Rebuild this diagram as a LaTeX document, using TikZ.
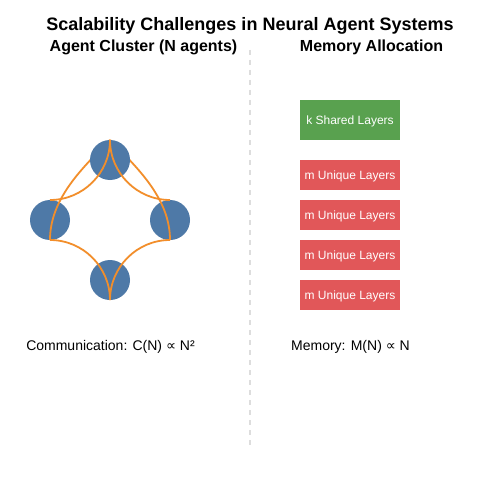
\documentclass[tikz,border=0pt]{standalone}
\usepackage{fontspec}
\setmainfont{Liberation Sans}
\newfontfamily\symfont{DejaVu Sans}
\definecolor{agentblue}{HTML}{4E79A7}
\definecolor{linkorange}{HTML}{F28E2B}
\definecolor{sharedgreen}{HTML}{59A14F}
\definecolor{uniquered}{HTML}{E15759}
\definecolor{divgray}{HTML}{DDDDDD}
\pgfdeclarelayer{back}
\pgfdeclarelayer{mid}
\pgfsetlayers{back,mid,main}
\begin{document}
\begin{tikzpicture}[x=1pt,y=-1pt,
  agent/.style={circle,fill=agentblue,draw=none,minimum size=40pt,inner sep=0pt,outer sep=0pt},
  link/.style={draw=linkorange,line width=1.8pt},
  layerbox/.style={rectangle,minimum width=100pt,inner sep=0pt,outer sep=0pt,text=white,text height=8.6pt,text depth=0pt,font=\fontsize{12}{14}\selectfont},
  titletext/.style={anchor=base,inner sep=0pt,font=\bfseries\fontsize{18}{21}\selectfont},
  headtext/.style={anchor=base,inner sep=0pt,font=\bfseries\fontsize{16}{19}\selectfont},
  labeltext/.style={anchor=base,inner sep=0pt,font=\fontsize{14}{17}\selectfont},
  divider/.style={draw=divgray,line width=1.5pt,dash pattern=on 5pt off 5pt}]
\begin{pgfonlayer}{back}
\fill[white] (0,0) rectangle (500,500);
\end{pgfonlayer}
\useasboundingbox (0,0) rectangle (500,500);

\node[titletext] (title) at (250,31) {Scalability Challenges in Neural Agent Systems};
\node[headtext] (headL) at (143.5,52) {Agent Cluster (N agents)};
\node[headtext] (headR) at (371.5,52) {Memory Allocation};

\coordinate (divtop) at (250,50);
\coordinate (divbot) at (250,445);
\draw[divider] (divtop) -- (divbot);

\begin{pgfonlayer}{back}
\node[agent] (L) at (50,220) {};
\node[agent] (R) at (170,220) {};
\node[agent] (B) at (110,280) {};
\end{pgfonlayer}
\node[agent] (T) at (110,160) {};

\begin{pgfonlayer}{mid}
\draw[link] (T.north) .. controls +(-30,30) and +(0,-40) .. (L.south);
\draw[link] (T.north) .. controls +(30,30) and +(0,-40) .. (R.south);
\end{pgfonlayer}
\draw[link] (T.north) .. controls +(0,33) and +(33,0) .. (L.north);
\draw[link] (T.north) .. controls +(0,33) and +(-33,0) .. (R.north);
\draw[link] (L.south) .. controls +(33,0) and +(0,-33) .. (B.south);
\draw[link] (R.south) .. controls +(-33,0) and +(0,-33) .. (B.south);

\node[layerbox,fill=sharedgreen,minimum height=40pt] (shared) at (350,120) {k Shared Layers};
\node[layerbox,fill=uniquered,minimum height=30pt] (u1) at (350,175) {m Unique Layers};
\node[layerbox,fill=uniquered,minimum height=30pt] (u2) at (350,215) {m Unique Layers};
\node[layerbox,fill=uniquered,minimum height=30pt] (u3) at (350,255) {m Unique Layers};
\node[layerbox,fill=uniquered,minimum height=30pt] (u4) at (350,295) {m Unique Layers};

\node[labeltext] (comm) at (110.5,350) {Communication: C(N) {\symfont ∝} N²};
\node[labeltext] (mem) at (350.5,350) {Memory: M(N) {\symfont ∝} N};
\end{tikzpicture}
\end{document}
